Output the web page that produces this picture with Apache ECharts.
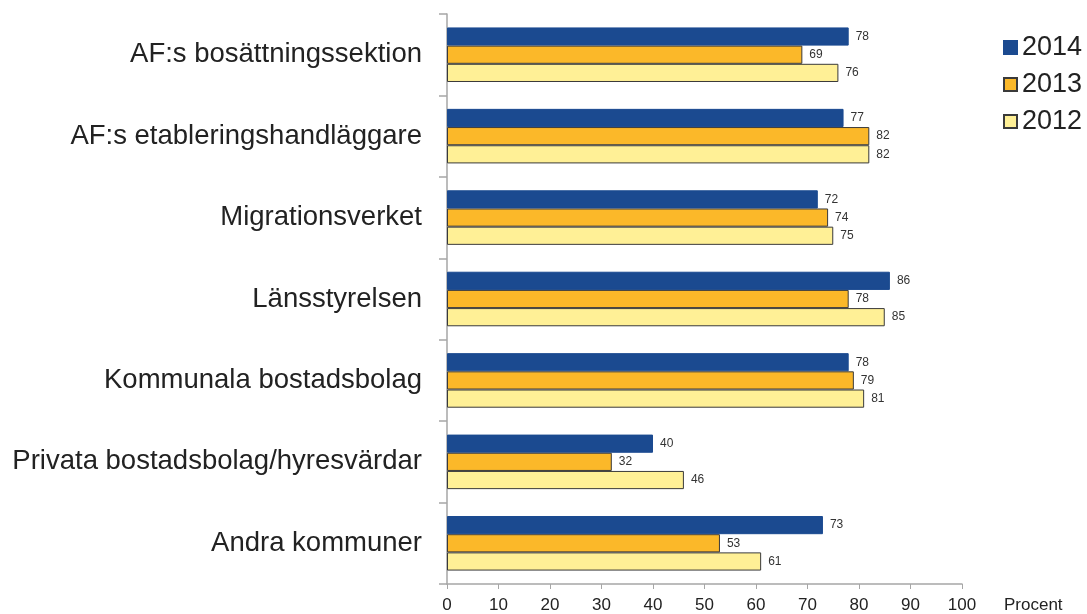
<!DOCTYPE html>
<html><head><meta charset="utf-8">
<script src="https://cdn.jsdelivr.net/npm/echarts@6/dist/echarts.min.js"></script>
<style>html,body{margin:0;padding:0;background:#fff}#c{width:1087px;height:614px}</style>
</head><body><div id="c"></div>
<script>
const categories = ["AF:s bosättningssektion","AF:s etableringshandläggare","Migrationsverket","Länsstyrelsen","Kommunala bostadsbolag","Privata bostadsbolag/hyresvärdar","Andra kommuner"];
const v2014 = [78,77,72,86,78,40,73];
const v2013 = [69,82,74,78,79,32,53];
const v2012 = [76,82,75,85,81,46,61];
const xTicks = [0,10,20,30,40,50,60,70,80,90,100];

const font = '"Liberation Sans", Arial, sans-serif';
const chart = echarts.init(document.getElementById('c'));
function s(name, data, color, border) {
  return {
    name, type: 'bar', data, barGap: '0%', barCategoryGap: '33%',
    itemStyle: {color, borderColor: border, borderWidth: 1},
    label: {show: true, position: 'right', distance: 7, fontSize: 12, color: '#333', fontFamily: font},
    emphasis: {disabled: true}
  };
}
chart.setOption({
  animation: false,
  textStyle: {fontFamily: font},
  grid: {left: 447, right: 125, top: 14, bottom: 30, containLabel: false},
  legend: {
    orient: 'vertical', left: 998, top: 29, itemWidth: 13, itemHeight: 13, itemGap: 10,
    icon: 'rect',
    textStyle: {fontSize: 27, color: '#222', fontFamily: font},
    data: ['2014','2013','2012']
  },
  xAxis: {
    type: 'value', min: 0, max: 100, interval: 10,
    axisLine: {show: true, lineStyle: {color: '#a6a6a6', width: 1.5}},
    axisTick: {show: true, length: 5, lineStyle: {color: '#a6a6a6'}},
    splitLine: {show: false},
    axisLabel: {fontSize: 17, color: '#222', margin: 13, fontFamily: font}
  },
  yAxis: {
    type: 'category', data: categories, inverse: true,
    axisLine: {show: true, lineStyle: {color: '#a6a6a6', width: 1.5}},
    axisTick: {show: true, length: 8, lineStyle: {color: '#a6a6a6', width: 1.5}},
    axisLabel: {fontSize: 27.5, color: '#222', margin: 25, fontFamily: font}
  },
  graphic: [{type: 'text', left: 1004, top: 597, style: {text: 'Procent', font: '17px "Liberation Sans", Arial, sans-serif', fill: '#222'}}],
  series: [
    s('2014', v2014, '#1b4a90', '#1b4a90'),
    s('2013', v2013, '#fbb829', '#3a3a3a'),
    s('2012', v2012, '#fff096', '#3a3a3a')
  ]
});
</script></body></html>
